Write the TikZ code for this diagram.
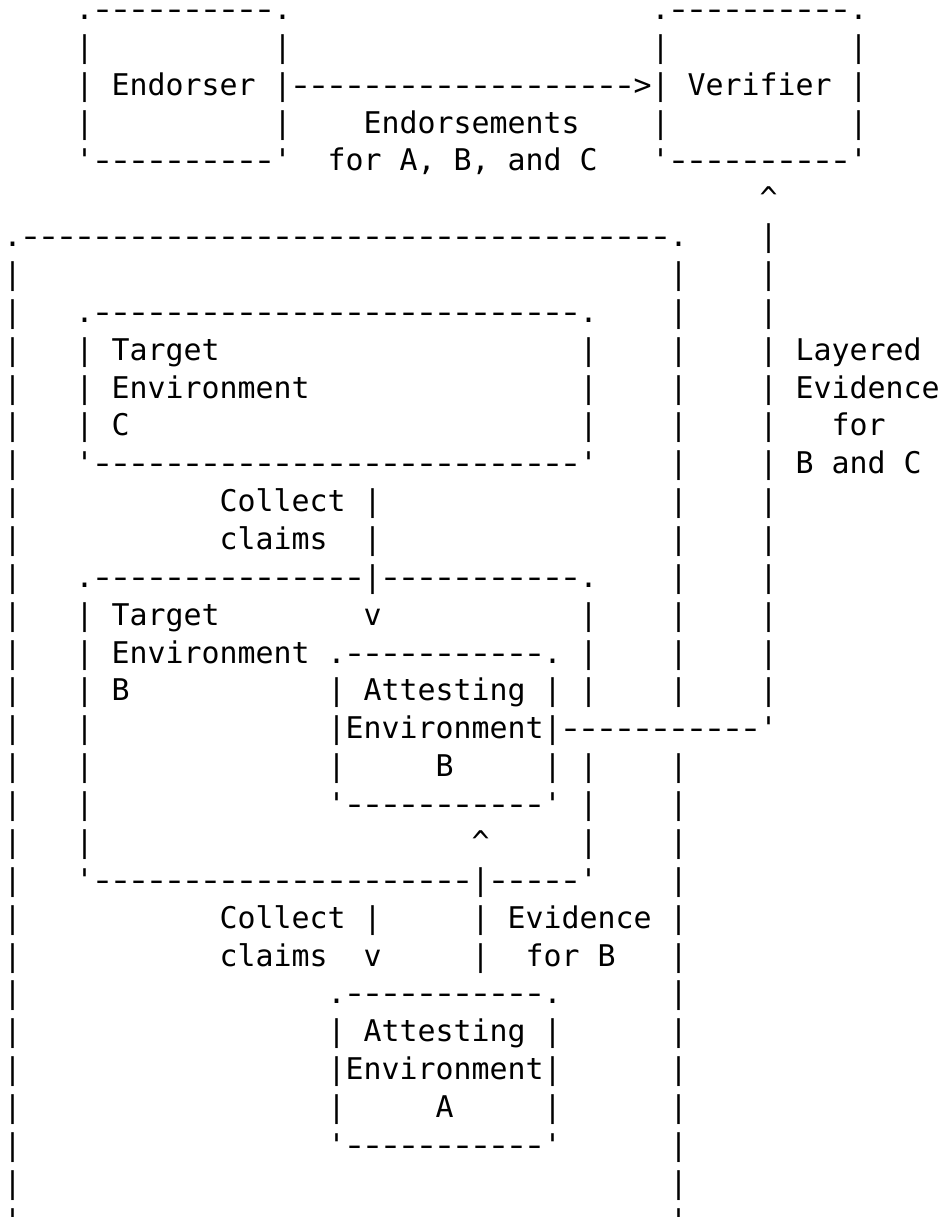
\documentclass[tikz,border=0pt]{standalone}
\usepackage{fontspec}
\usepackage{graphicx}
\setmonofont{DejaVu Sans Mono}[WordSpace={1,0,0},PunctuationSpace=WordSpace]

% one character cell is 18pt wide, one text line 37.86pt high
\tikzset{asc/.style={anchor=base west, inner sep=0pt, outer sep=0pt,
  font=\ttfamily\fontsize{29.9pt}{37.86pt}\selectfont\frenchspacing}}
\newcommand\seg[4]{\node[asc] (#1) at ({3.7+18*#2},{19.5+37.86*#3}) {#4};}
\newcommand\caret{\char94\relax}
% a run of hyphens, each a little wider within its own cell
\newcount\dashcnt
\newcommand\dashrun[1]{\dashcnt=#1\relax
  \loop\ifnum\dashcnt>0 \makebox[18pt]{\scalebox{1.36}[1]{-}}\advance\dashcnt by -1\repeat}

\begin{document}
\begin{tikzpicture}[x=1pt,y=-1pt]
\useasboundingbox[fill=white] (0,0) rectangle (944,1217);
\clip (0,0) rectangle (944,1217);

% Endorser and Verifier
\seg{endTop}{4}{0}{.\dashrun{10}.}
\seg{verTop}{36}{0}{.\dashrun{10}.}
\foreach \r in {1,3} {
  \seg{endL\r}{4}{\r}{|}
  \seg{endR\r}{15}{\r}{|}
  \seg{verL\r}{36}{\r}{|}
  \seg{verR\r}{47}{\r}{|}
}
\seg{endorser}{4}{2}{| Endorser |}
\seg{endArrow}{16}{2}{\dashrun{19}>}
\seg{verifier}{36}{2}{| Verifier |}
\seg{endorsements}{20}{3}{Endorsements}
\seg{endorsFor}{18}{4}{for A, B, and C}
\seg{endBot}{4}{4}{'\dashrun{10}'}
\seg{verBot}{36}{4}{'\dashrun{10}'}

% Layered evidence path up to the Verifier
\seg{evHead}{42}{5}{\caret}
\foreach \r in {6,...,18} {\seg{evBar\r}{42}{\r}{|}}
\seg{layered}{44}{9}{Layered}
\seg{evidence}{44}{10}{Evidence}
\seg{evFor}{46}{11}{for}
\seg{bandc}{44}{12}{B and C}

% Attester frame
\seg{attTop}{0}{6}{.\dashrun{36}.}
\foreach \r in {7,...,32} {\seg{attL\r}{0}{\r}{|}}
\foreach \r in {7,...,18,20,21,...,32} {\seg{attR\r}{37}{\r}{|}}

% Target Environment C
\seg{tcTop}{4}{8}{.\dashrun{27}.}
\foreach \r in {9,10,11} {
  \seg{tcL\r}{4}{\r}{|}
  \seg{tcR\r}{32}{\r}{|}
}
\seg{tcTarget}{6}{9}{Target}
\seg{tcEnv}{6}{10}{Environment}
\seg{tcName}{6}{11}{C}
\seg{tcBot}{4}{12}{'\dashrun{27}'}

% Collect claims from C
\seg{collectC}{12}{13}{Collect}
\seg{claimsC}{12}{14}{claims}
\seg{clmC13}{20}{13}{|}
\seg{clmC14}{20}{14}{|}
\seg{clmCHead}{20}{16}{v}

% Target Environment B
\seg{tbTop}{4}{15}{.\dashrun{15}|\dashrun{11}.}
\foreach \r in {16,...,22} {\seg{tbL\r}{4}{\r}{|}}
\foreach \r in {16,17,18,20,21,22} {\seg{tbR\r}{32}{\r}{|}}
\seg{tbTarget}{6}{16}{Target}
\seg{tbEnv}{6}{17}{Environment}
\seg{tbName}{6}{18}{B}
\seg{tbBot}{4}{23}{'\dashrun{21}|\dashrun{5}'}

% Attesting Environment B, with the evidence line leaving its right side
\seg{aebTop}{18}{17}{.\dashrun{11}.}
\foreach \r in {18,20} {
  \seg{aebL\r}{18}{\r}{|}
  \seg{aebR\r}{30}{\r}{|}
}
\seg{aebAtt}{20}{18}{Attesting}
\seg{aebEnv}{18}{19}{|Environment|\dashrun{11}'}
\seg{aebName}{24}{20}{B}
\seg{aebBot}{18}{21}{'\dashrun{11}'}

% Collect claims from B, Evidence for B
\seg{collectB}{12}{24}{Collect}
\seg{claimsB}{12}{25}{claims}
\seg{clmB24}{20}{24}{|}
\seg{clmBHead}{20}{25}{v}
\seg{evbHead}{26}{22}{\caret}
\seg{evb24}{26}{24}{|}
\seg{evb25}{26}{25}{|}
\seg{evbText}{28}{24}{Evidence}
\seg{evbFor}{29}{25}{for B}

% Attesting Environment A
\seg{aeaTop}{18}{26}{.\dashrun{11}.}
\foreach \r in {27,28,29} {
  \seg{aeaL\r}{18}{\r}{|}
  \seg{aeaR\r}{30}{\r}{|}
}
\seg{aeaAtt}{20}{27}{Attesting}
\seg{aeaEnv}{19}{28}{Environment}
\seg{aeaName}{24}{29}{A}
\seg{aeaBot}{18}{30}{'\dashrun{11}'}
\end{tikzpicture}
\end{document}
